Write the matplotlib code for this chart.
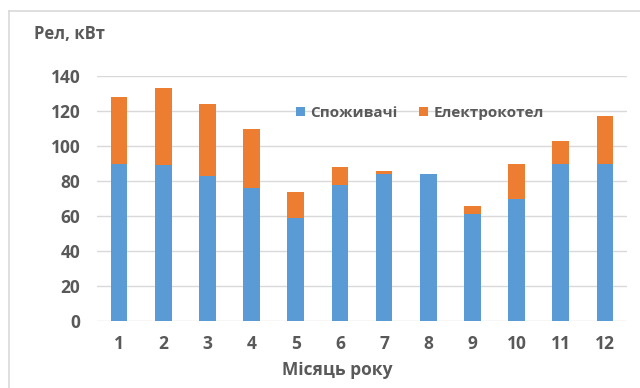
import matplotlib
matplotlib.use("Agg")
import matplotlib.pyplot as plt
import numpy as np
from matplotlib.lines import Line2D

months = ["1", "2", "3", "4", "5", "6", "7", "8", "9", "10", "11", "12"]
consumers = [90, 89, 83, 76, 59, 78, 84, 84, 61, 70, 90, 90]
totals = [128, 133, 124, 110, 74, 88, 86, 84, 66, 90, 103, 117]
boiler = [t - c for t, c in zip(totals, consumers)]
yticks = [0, 20, 40, 60, 80, 100, 120, 140]

plt.rcParams['font.family'] = ['Open Sans', 'DejaVu Sans']
TXT = '#595959'
W, H = 640, 388
fig = plt.figure(figsize=(W / 100, H / 100), dpi=100)
ax = fig.add_axes([97 / W, 1 - 321 / H, 530 / W, 245 / H])

x = np.arange(len(months))
ax.bar(x, consumers, width=0.38, color='#5b9bd5', label='Споживачі', zorder=3)
ax.bar(x, boiler, width=0.38, bottom=consumers, color='#ed7d31', label='Електрокотел', zorder=3)

ax.set_xlim(-0.5, len(months) - 0.5)
ax.set_ylim(0, 140)
ax.set_yticks(yticks)
ax.set_yticklabels([str(v) for v in yticks], fontsize=12.5, fontweight='bold', color=TXT)
ax.set_xticks(x)
ax.set_xticklabels(months, fontsize=12.5, fontweight='bold', color=TXT)
ax.tick_params(axis='both', length=0)
ax.tick_params(axis='y', pad=12)
ax.tick_params(axis='x', pad=10)
ax.grid(axis='y', color='#d9d9d9', linewidth=1, zorder=0)
for s in ax.spines.values():
    s.set_visible(False)

fig.text(34 / W, 1 - 34 / H, 'Рел, кВт', fontsize=12, fontweight='bold', color=TXT,
         ha='left', va='center')
fig.text(337 / W, 1 - 370 / H, 'Місяць року', fontsize=12.5, fontweight='bold', color=TXT,
         ha='center', va='center')

leg = ax.legend(loc='center', bbox_to_anchor=(420 / W, 1 - 113 / H),
                bbox_transform=fig.transFigure, ncol=2, frameon=False,
                handlelength=0.6, handleheight=0.6, handletextpad=0.35,
                columnspacing=1.4, prop={'size': 11, 'weight': 'bold'})
for t in leg.get_texts():
    t.set_color(TXT)

# chart frame (top and left edges visible)
fig.add_artist(Line2D([9 / W, 1], [1 - 11 / H, 1 - 11 / H], transform=fig.transFigure,
                      color='#d9d9d9', linewidth=1.2))
fig.add_artist(Line2D([9 / W, 9 / W], [0, 1 - 11 / H], transform=fig.transFigure,
                      color='#d9d9d9', linewidth=1.2))

fig.savefig('out.png', dpi=100)
